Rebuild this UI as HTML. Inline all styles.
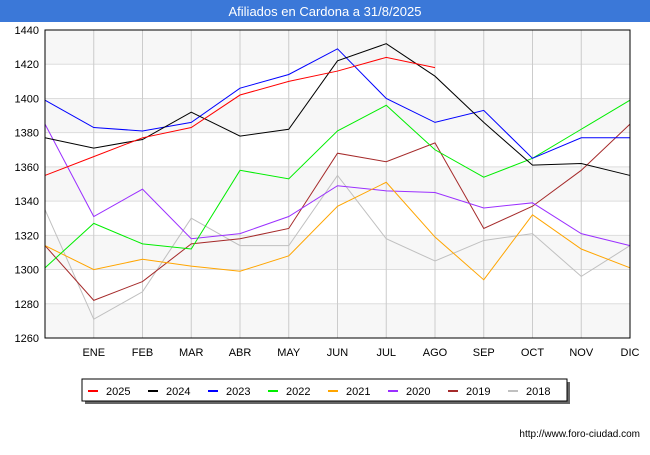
<!DOCTYPE html>
<html><head><meta charset="utf-8"><style>
body{margin:0;background:#fff;font-family:"Liberation Sans",sans-serif}
</style></head><body>
<svg width="650" height="450" xmlns="http://www.w3.org/2000/svg" font-family="Liberation Sans, sans-serif">
<rect x="0" y="0" width="650" height="22" fill="#3b78d8"/>
<text x="325" y="16" fill="#fff" font-size="13" text-anchor="middle">Afiliados en Cardona a 31/8/2025</text>
<g id="plot"></g>
<rect x="45" y="30" width="585" height="308" fill="none" stroke="#000" stroke-width="1"/>
<rect x="85" y="382" width="485" height="22" fill="#666"/>
<rect x="82" y="379" width="485" height="22" fill="#fff" stroke="#000"/>
<g id="legend"></g>
<text x="640" y="437" font-size="10" text-anchor="end" fill="#000">http://www.foro-ciudad.com</text>
</svg>
<script>
const months=["","ENE","FEB","MAR","ABR","MAY","JUN","JUL","AGO","SEP","OCT","NOV","DIC"];
const yTicks=[1260,1280,1300,1320,1340,1360,1380,1400,1420,1440];
const seriesNames=["2025","2024","2023","2022","2021","2020","2019","2018"];
const seriesColors=["#ff0000","#000000","#0000ff","#00ee00","#ffa500","#9b30ff","#a52a2a","#c0c0c0"];
const s2025=[1355,1366,1377,1383,1402,1410,1416,1424,1418];
const s2024=[1377,1371,1376,1392,1378,1382,1422,1432,1413,1386,1361,1362,1355];
const s2023=[1399,1383,1381,1386,1406,1414,1429,1400,1386,1393,1365,1377,1377];
const s2022=[1301,1327,1315,1312,1358,1353,1381,1396,1370,1354,1365,1382,1399];
const s2021=[1314,1300,1306,1302,1299,1308,1337,1351,1319,1294,1332,1312,1301];
const s2020=[1385,1331,1347,1318,1321,1331,1349,1346,1345,1336,1339,1321,1314];
const s2019=[1314,1282,1293,1315,1318,1324,1368,1363,1374,1324,1337,1358,1385];
const s2018=[1335,1271,1287,1330,1314,1314,1355,1318,1305,1317,1321,1296,1314];
const allSeries=[s2025,s2024,s2023,s2022,s2021,s2020,s2019,s2018];
const X0=45,X1=630,Y0=30,Y1=338,YMIN=1260,YMAX=1440;
const xs=i=>X0+i*(X1-X0)/(months.length-1);
const ys=v=>Y1-(v-YMIN)/(YMAX-YMIN)*(Y1-Y0);
const NS="http://www.w3.org/2000/svg";
const plot=document.getElementById('plot');
function mk(t,a,p){const e=document.createElementNS(NS,t);for(const k in a)e.setAttribute(k,a[k]);p.appendChild(e);return e;}
for(let i=0;i<yTicks.length-1;i++){
  if(i%2==0){const r=mk('rect',{x:X0,y:ys(yTicks[i+1]),width:X1-X0,height:ys(yTicks[i])-ys(yTicks[i+1]),fill:'#f7f7f7'},plot);
  
  }
}
yTicks.forEach(v=>{
  const l=mk('line',{x1:X0,x2:X1,y1:ys(v),y2:ys(v),stroke:'#ddd'},plot);
  
  
  const t=mk('text',{x:X0-6,y:ys(v)+4,'font-size':11,'text-anchor':'end'},plot);t.textContent=v;
  
  
});
months.forEach((m,i)=>{
  if(i==0)return;
  const l=mk('line',{x1:xs(i),x2:xs(i),y1:Y0,y2:Y1,stroke:'#ccc'},plot);
  
  
  const t=mk('text',{x:xs(i),y:356,'font-size':11,'text-anchor':'middle'},plot);t.textContent=m;
  
  
});
for(let s=allSeries.length-1;s>=0;s--){
  const pts=allSeries[s].map((v,i)=>xs(i)+','+ys(v)).join(' ');
  const p=mk('polyline',{points:pts,fill:'none',stroke:seriesColors[s],'stroke-width':1},plot);
  
  
}
const lg=document.getElementById('legend');
seriesNames.forEach((n,i)=>{
  const x=88+i*60;
  const l=mk('line',{x1:x,x2:x+10,y1:391,y2:391,stroke:seriesColors[i],'stroke-width':2},lg);
  
  
  const t=mk('text',{x:x+18,y:395,'font-size':11},lg);t.textContent=n;
  
  
});
</script>
</body></html>
